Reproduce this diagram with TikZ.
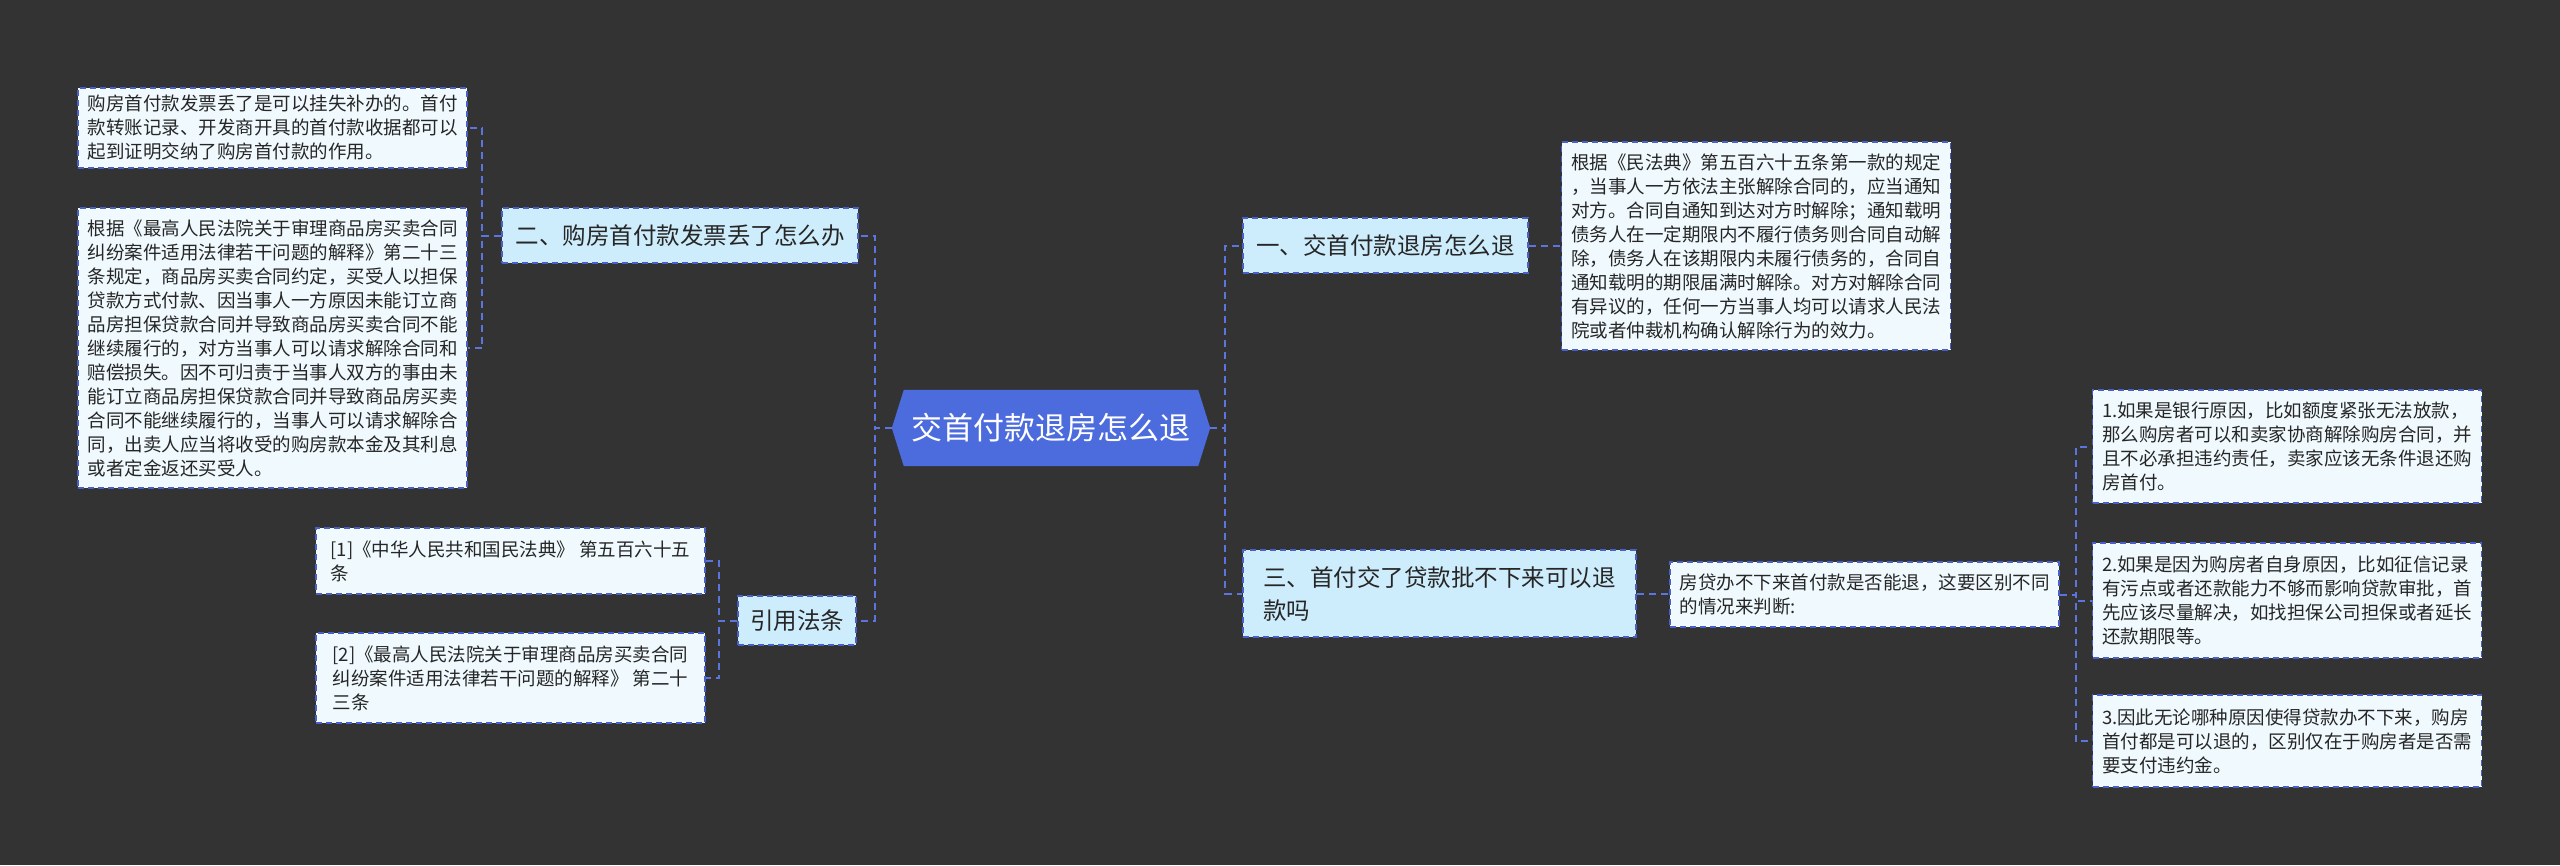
\documentclass[tikz,border=0pt]{standalone}
\usepackage{fontspec}
\setmainfont{Noto Sans CJK SC}
\usetikzlibrary{positioning, backgrounds, calc}
\definecolor{pagegray}{RGB}{51,51,51}
\definecolor{rootblue}{RGB}{76,108,222}
\definecolor{branchblue}{RGB}{206,237,252}
\definecolor{leafwhite}{RGB}{240,250,254}
\definecolor{mmborder}{RGB}{72,96,200}
\definecolor{linkblue}{RGB}{92,116,222}
\definecolor{mmtext}{RGB}{38,38,38}
\tikzset{
    mmroot/.style={rectangle, minimum width=318pt, minimum height=76pt, inner sep=0pt, text=white, font=\fontsize{31}{36}\selectfont},
    mmbranch/.style={rectangle, draw=mmborder, fill=branchblue, dash pattern=on 6pt off 4pt, line width=1.6pt, align=left, text=mmtext, inner sep=0pt, font=\fontsize{23.5}{33}\selectfont},
    mmleaf/.style={rectangle, draw=mmborder, fill=leafwhite, dash pattern=on 6pt off 4pt, line width=1.6pt, align=left, text=mmtext, inner sep=0pt, minimum width=389pt, font=\fontsize{18.5}{24}\selectfont},
    mmlink/.style={draw=linkblue, line width=2pt, dash pattern=on 7pt off 5pt}
}

\begin{document}
\begin{tikzpicture}[x=1pt, y=-1pt]
\useasboundingbox (0,0) rectangle (2560,865);

% centre
\node[mmroot] (root) at (1051,428) {交首付款退房怎么退};

% left side
\node[mmbranch, minimum width=356pt, minimum height=55pt] (lost) at (680,235.5) {二、购房首付款发票丢了怎么办};
\node[mmleaf, minimum height=80pt] (lostA) at (272.5,128) {购房首付款发票丢了是可以挂失补办的。首付\\款转账记录、开发商开具的首付款收据都可以\\起到证明交纳了购房首付款的作用。};
\node[mmleaf, minimum height=280pt] (lostB) at (272.5,348) {根据《最高人民法院关于审理商品房买卖合同\\纠纷案件适用法律若干问题的解释》第二十三\\条规定，商品房买卖合同约定，买受人以担保\\贷款方式付款、因当事人一方原因未能订立商\\品房担保贷款合同并导致商品房买卖合同不能\\继续履行的，对方当事人可以请求解除合同和\\赔偿损失。因不可归责于当事人双方的事由未\\能订立商品房担保贷款合同并导致商品房买卖\\合同不能继续履行的，当事人可以请求解除合\\同，出卖人应当将收受的购房款本金及其利息\\或者定金返还买受人。};

\node[mmbranch, minimum width=118pt, minimum height=49pt] (law) at (797,620.5) {引用法条};
\node[mmleaf, minimum height=66pt] (lawA) at (510.5,561) {[1]《中华人民共和国民法典》 第五百六十五\\条};
\node[mmleaf, minimum height=90pt] (lawB) at (510.5,678) {[2]《最高人民法院关于审理商品房买卖合同\\纠纷案件适用法律若干问题的解释》 第二十\\三条};

% right side
\node[mmbranch, minimum width=285pt, minimum height=55pt] (refund) at (1385.5,245.5) {一、交首付款退房怎么退};
\node[mmleaf, minimum height=208pt] (refundA) at (1756,246) {根据《民法典》第五百六十五条第一款的规定\\，当事人一方依法主张解除合同的，应当通知\\对方。合同自通知到达对方时解除；通知载明\\债务人在一定期限内不履行债务则合同自动解\\除，债务人在该期限内未履行债务的，合同自\\通知载明的期限届满时解除。对方对解除合同\\有异议的，任何一方当事人均可以请求人民法\\院或者仲裁机构确认解除行为的效力。};

\node[mmbranch, minimum width=393pt, minimum height=87pt] (loan) at (1439.5,593.5) {三、首付交了贷款批不下来可以退\\款吗};
\node[mmleaf, minimum height=65pt] (loanA) at (1864.5,594.5) {房贷办不下来首付款是否能退，这要区别不同\\的情况来判断:};
\node[mmleaf, minimum height=113pt] (caseA) at (2287,446.5) {1.如果是银行原因，比如额度紧张无法放款，\\那么购房者可以和卖家协商解除购房合同，并\\且不必承担违约责任，卖家应该无条件退还购\\房首付。};
\node[mmleaf, minimum height=115pt] (caseB) at (2287,600.5) {2.如果是因为购房者自身原因，比如征信记录\\有污点或者还款能力不够而影响贷款审批，首\\先应该尽量解决，如找担保公司担保或者延长\\还款期限等。};
\node[mmleaf, minimum height=92pt] (caseC) at (2287,741) {3.因此无论哪种原因使得贷款办不下来，购房\\首付都是可以退的，区别仅在于购房者是否需\\要支付违约金。};

% connectors
\draw[mmlink] (root.west) -- ++(-17,0) |- (lost.east);
\draw[mmlink] (root.west) -- ++(-17,0) |- (law.east);
\draw[mmlink] (lost.west) -- ++(-19,0) |- (lostA.east);
\draw[mmlink] (lost.west) -- ++(-19,0) |- (lostB.east);
\draw[mmlink] (law.west) -- ++(-18,0) |- (lawA.east);
\draw[mmlink] (law.west) -- ++(-18,0) |- (lawB.east);
\draw[mmlink] (root.east) -- ++(15,0) |- (refund.west);
\draw[mmlink] (root.east) -- ++(15,0) |- (loan.west);
\draw[mmlink] (refund.east) -- (refund.east -| refundA.west);
\draw[mmlink] (loan.east) -- (loan.east -| loanA.west);
\draw[mmlink] (loanA.east) -- ++(16,0) |- (caseA.west);
\draw[mmlink] (loanA.east) -- ++(16,0) |- (caseB.west);
\draw[mmlink] (loanA.east) -- ++(16,0) |- (caseC.west);

\begin{scope}[on background layer]
    \fill[pagegray] (0,0) rectangle (2560,865);
    \fill[rootblue] (root.west) -- ([xshift=12pt]root.north west) -- ([xshift=-12pt]root.north east) -- (root.east) -- ([xshift=-12pt]root.south east) -- ([xshift=12pt]root.south west) -- cycle;
\end{scope}

\end{tikzpicture}
\end{document}
